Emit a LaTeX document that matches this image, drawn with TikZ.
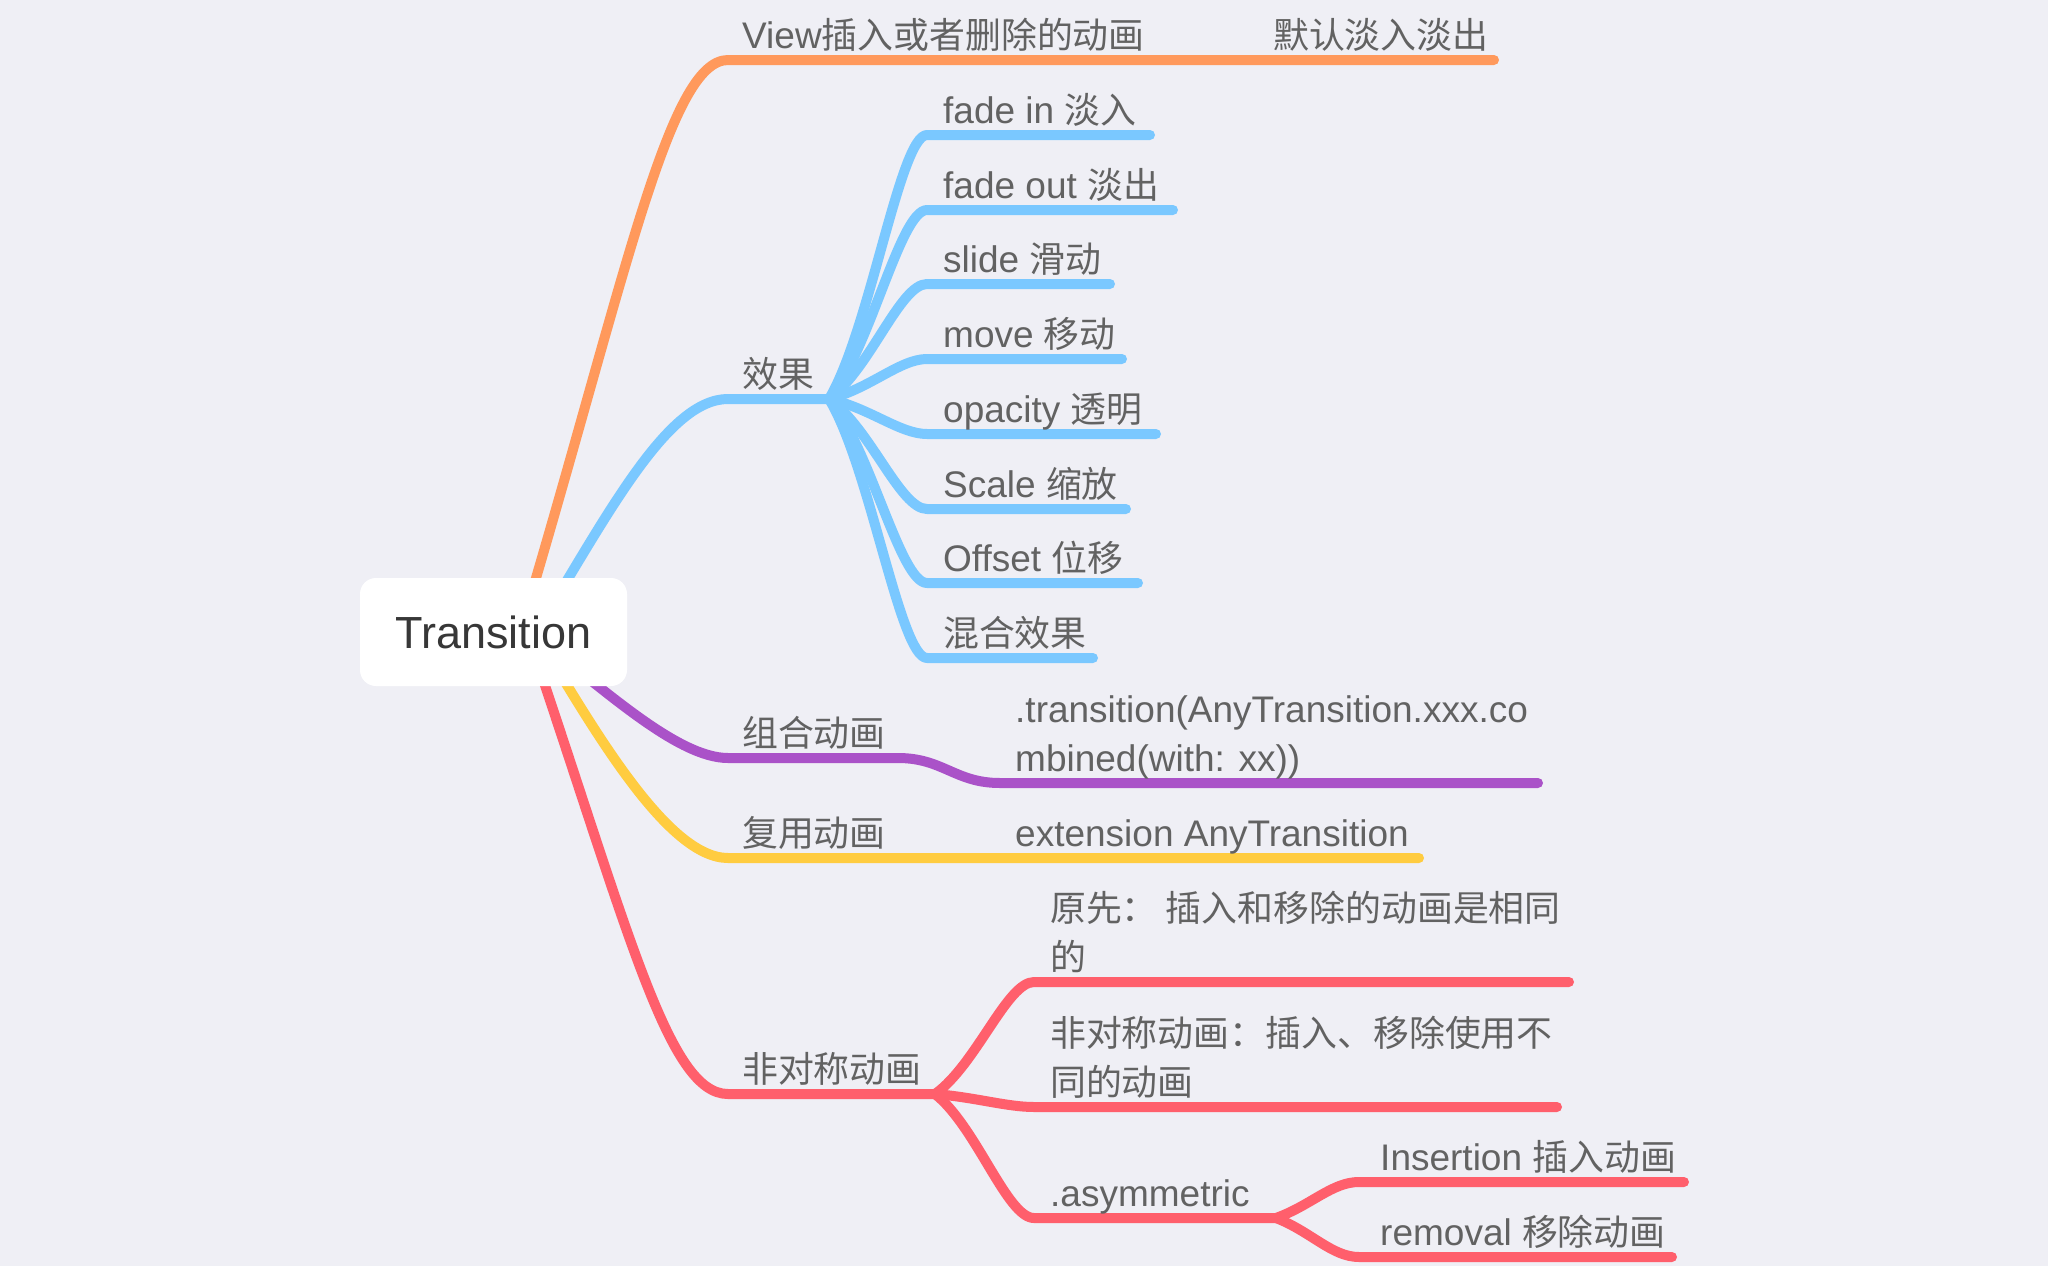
\documentclass[tikz,border=0pt]{standalone}
\usepackage{fontspec}
\setmainfont{Liberation Sans}
\newfontfamily\cjk[Scale=0.97]{Noto Sans CJK SC}
\definecolor{bg}{RGB}{239,239,245}
\definecolor{corange}{RGB}{255,153,92}
\definecolor{cblue}{RGB}{122,200,255}
\definecolor{cpurple}{RGB}{170,82,200}
\definecolor{cyellow}{RGB}{255,204,64}
\definecolor{cred}{RGB}{255,95,108}
\definecolor{txt}{RGB}{98,98,98}
\definecolor{roottxt}{RGB}{55,55,55}
\begin{document}
\begin{tikzpicture}[x=1pt,y=-1pt,
  branch/.style={line width=10pt,line cap=round,line join=round},
  lbl/.style={anchor=base west,inner sep=0pt,text=txt,font=\fontsize{37}{44}\selectfont},
  rootbox/.style={fill=white,rounded corners=16pt,minimum width=267pt,minimum height=108pt,inner sep=0pt,text=roottxt,font=\fontsize{45}{54}\selectfont}
]
\fill[bg] (0,0) rectangle (2048,1266);
\useasboundingbox (0,0) rectangle (2048,1266);

% ---- coordinates ----
\coordinate (sO) at (520,632);
\coordinate (sB) at (536,632);
\coordinate (sP) at (540,640);
\coordinate (sY) at (535,632);
\coordinate (sR) at (527,632);
% orange
\coordinate (oA) at (728,60);
\coordinate (oB) at (1494,60);
% blue
\coordinate (bA) at (728,399);
\coordinate (bF) at (829,399);
\coordinate (b1) at (927,135); \coordinate (b1e) at (1150,135);
\coordinate (b2) at (927,210); \coordinate (b2e) at (1173,210);
\coordinate (b3) at (927,284); \coordinate (b3e) at (1110,284);
\coordinate (b4) at (927,359); \coordinate (b4e) at (1122,359);
\coordinate (b5) at (927,434); \coordinate (b5e) at (1156,434);
\coordinate (b6) at (927,509); \coordinate (b6e) at (1126,509);
\coordinate (b7) at (927,583); \coordinate (b7e) at (1138,583);
\coordinate (b8) at (927,658); \coordinate (b8e) at (1093,658);
% purple
\coordinate (pA) at (728,758);
\coordinate (pB) at (898,758);
\coordinate (pC) at (1000,783);
\coordinate (pD) at (1538,783);
% yellow
\coordinate (yA) at (728,858);
\coordinate (yB) at (1419,858);
% red
\coordinate (rA) at (728,1094);
\coordinate (rF) at (935,1094);
\coordinate (r1) at (1034,982);  \coordinate (r1e) at (1569,982);
\coordinate (r2) at (1034,1107); \coordinate (r2e) at (1557,1107);
\coordinate (r3) at (1034,1218); \coordinate (rG) at (1276,1218);
\coordinate (r4) at (1359,1182); \coordinate (r4e) at (1684,1182);
\coordinate (r5) at (1359,1257); \coordinate (r5e) at (1672,1257);

% ---- branches ----
\draw[branch,corange] (sO) .. controls +(105,-350) and +(-60,0) .. (oA) -- (oB);

\draw[branch,cblue] (sB) .. controls +(73,-120) and +(-60,0) .. (bA) -- (bF);
\draw[branch,cblue] (bF) .. controls +(41,-69) and +(-27,0) .. (b1) -- (b1e);
\draw[branch,cblue] (bF) .. controls +(41,-49) and +(-27,0) .. (b2) -- (b2e);
\draw[branch,cblue] (bF) .. controls +(41,-30) and +(-27,0) .. (b3) -- (b3e);
\draw[branch,cblue] (bF) .. controls +(41,-10.4) and +(-27,0) .. (b4) -- (b4e);
\draw[branch,cblue] (bF) .. controls +(41,9.1) and +(-27,0) .. (b5) -- (b5e);
\draw[branch,cblue] (bF) .. controls +(41,28.6) and +(-27,0) .. (b6) -- (b6e);
\draw[branch,cblue] (bF) .. controls +(41,47.8) and +(-27,0) .. (b7) -- (b7e);
\draw[branch,cblue] (bF) .. controls +(41,67.3) and +(-27,0) .. (b8) -- (b8e);

\draw[branch,cpurple] (sP) .. controls +(65,50) and +(-50,0) .. (pA) -- (pB)
  .. controls +(45,0) and +(-45,0) .. (pC) -- (pD);

\draw[branch,cyellow] (sY) .. controls +(60,100) and +(-60,0) .. (yA) -- (yB);

\draw[branch,cred] (sR) .. controls +(102,300) and +(-60,0) .. (rA) -- (rF);
\draw[branch,cred] (rF) .. controls +(41,-29) and +(-27,0) .. (r1) -- (r1e);
\draw[branch,cred] (rF) .. controls +(41,3.4) and +(-27,0) .. (r2) -- (r2e);
\draw[branch,cred] (rF) .. controls +(41,32) and +(-27,0) .. (r3) -- (rG);
\draw[branch,cred] (rG) .. controls +(35,-12.6) and +(-27,0) .. (r4) -- (r4e);
\draw[branch,cred] (rG) .. controls +(35,13.6) and +(-27,0) .. (r5) -- (r5e);

% ---- root ----
\node[rootbox] (root) at (493.5,632) {Transition};

% ---- labels ----
\node[lbl] (tView) at (742,48) {View{\cjk 插入或者删除的动画}};
\node[lbl] (tDef) at (1273,48) {\cjk 默认淡入淡出};
\node[lbl] (tEff) at (742,387) {\cjk 效果};
\node[lbl] (tB1) at (943,123) {fade in {\cjk 淡入}};
\node[lbl] (tB2) at (943,198) {fade out {\cjk 淡出}};
\node[lbl] (tB3) at (943,272) {slide {\cjk 滑动}};
\node[lbl] (tB4) at (943,347) {move {\cjk 移动}};
\node[lbl] (tB5) at (943,422) {opacity {\cjk 透明}};
\node[lbl] (tB6) at (943,497) {Scale {\cjk 缩放}};
\node[lbl] (tB7) at (943,571) {Offset {\cjk 位移}};
\node[lbl] (tB8) at (943,646) {\cjk 混合效果};
\node[lbl] (tComb) at (742,746) {\cjk 组合动画};
\node[lbl] (tComb1) at (1015,722) {.transition(AnyTransition.xxx.co};
\node[lbl] (tComb2) at (1015,771) {mbined(with: xx))};
\node[lbl] (tReuse) at (742,846) {\cjk 复用动画};
\node[lbl] (tExt) at (1015,846) {extension AnyTransition};
\node[lbl] (tAsym) at (742,1082) {\cjk 非对称动画};
\node[lbl] (tR1a) at (1050,921) {\cjk 原先： 插入和移除的动画是相同};
\node[lbl] (tR1b) at (1050,970) {\cjk 的};
\node[lbl] (tR2a) at (1050,1046) {\cjk 非对称动画：插入、移除使用不};
\node[lbl] (tR2b) at (1050,1095) {\cjk 同的动画};
\node[lbl] (tR3) at (1050,1206) {.asymmetric};
\node[lbl] (tR4) at (1380,1170) {Insertion {\cjk 插入动画}};
\node[lbl] (tR5) at (1380,1245) {removal {\cjk 移除动画}};
\end{tikzpicture}
\end{document}
